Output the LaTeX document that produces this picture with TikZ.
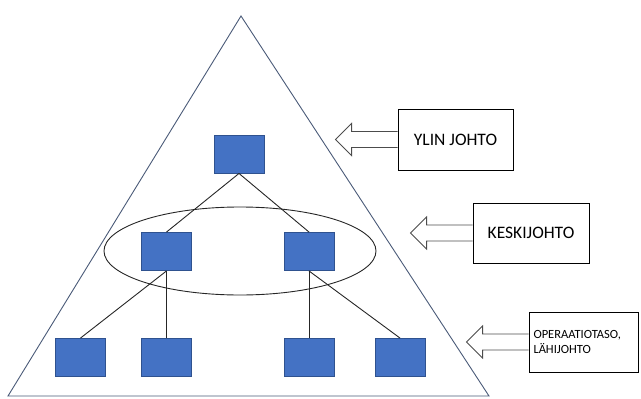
\documentclass[tikz,border=0pt]{standalone}
\usepackage{fontspec}
\setmainfont{Carlito}
\usepackage{xcolor}
\usepackage{tikz}
\usetikzlibrary{positioning, shapes, calc}

\definecolor{boxblue}{HTML}{4472C4}
\definecolor{boxedge}{HTML}{2F528F}
\definecolor{triedge}{HTML}{4A5A78}

\tikzset{
  unit/.style={draw=boxedge, fill=boxblue, line width=0.9pt, minimum width=50pt, minimum height=38pt, inner sep=0pt},
  level/.style={draw, line width=0.9pt, inner sep=0pt, font=\fontsize{17.5}{21}\selectfont},
  link/.style={draw=black!85, line width=0.9pt},
  callarrow/.pic={\draw[black!70, line width=0.9pt] (0,-8) -- (-46,-8) -- (-46,-16) -- (-62,0) -- (-46,16) -- (-46,8) -- (0,8);}
}

\begin{document}
\begin{tikzpicture}[x=1pt, y=-1pt]
  \useasboundingbox (0,0) rectangle (641,399);

  % pyramid and the middle ring
  \draw[triedge, line width=0.9pt] (241,16) -- (489,396) -- (8,396) -- cycle;
  \draw[black!85, line width=0.9pt] (240,251) ellipse [x radius=136, y radius=44];

  % org chart
  \node[unit] (top) at (239,154) {};
  \node[unit] (midl) at (166.5,251.5) {};
  \node[unit] (midr) at (309,251.5) {};
  \node[unit] (b1) at (80.5,357.5) {};
  \node[unit] (b2) at (166.5,357.5) {};
  \node[unit] (b3) at (309,357.5) {};
  \node[unit] (b4) at (400,357.5) {};

  \draw[link] (top.south) -- (midl.north);
  \draw[link] (top.south) -- (midr.north);
  \draw[link] (midl.south) -- (b1.north);
  \draw[link] (midl.south) -- (b2.north);
  \draw[link] (midr.south) -- (b3.north);
  \draw[link] (midr.south) -- (b4.north);

  % levels
  \node[level, minimum width=115pt, minimum height=61pt] (ylin) at (455.5,139.5) {YLIN JOHTO};
  \node[level, minimum width=116pt, minimum height=60pt] (keski) at (531,233) {KESKIJOHTO};
  \node[level, minimum width=109pt, minimum height=60pt, text width=100pt, inner xsep=4.5pt, align=left,
        font=\fontsize{12.5}{15}\selectfont] (oper) at (583.5,342) {OPERAATIOTASO,\\LÄHIJOHTO};

  \pic at (ylin.west) {callarrow};
  \pic at (keski.west) {callarrow};
  \pic at (oper.west) {callarrow};
\end{tikzpicture}
\end{document}
